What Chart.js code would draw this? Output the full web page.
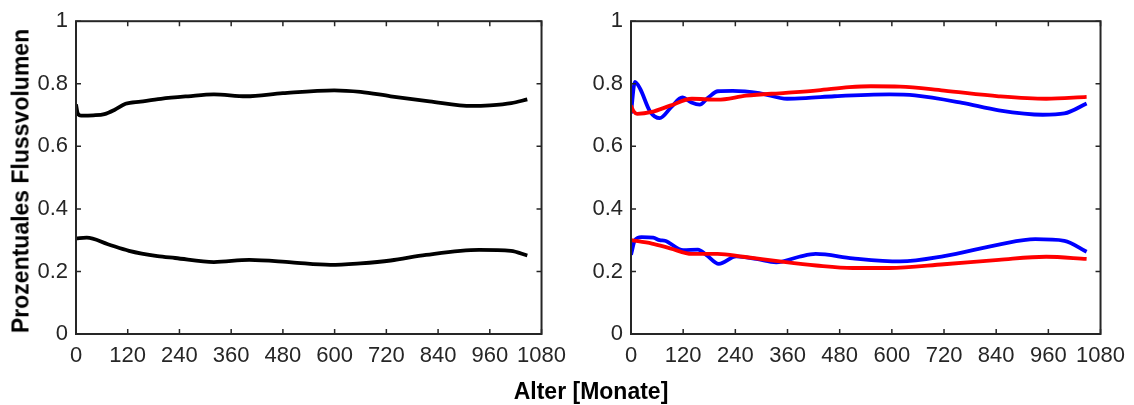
<!DOCTYPE html>
<html>
<head>
<meta charset="utf-8">
<script src="https://cdn.jsdelivr.net/npm/chart.js@4.4.1/dist/chart.umd.min.js"></script>
<style>
  html, body { margin: 0; padding: 0; background: #fff; }
  #wrap { position: relative; width: 1134px; height: 405px; overflow: hidden; font-family: "Liberation Sans", Arial, sans-serif; }
  #c1 { position: absolute; left: 0; top: 0; }
  #c2 { position: absolute; left: 575px; top: 0; }
  .ytitle { position: absolute; left: 21px; top: 181px; transform: translate(-50%, -50%) rotate(-90deg); white-space: nowrap; font-weight: bold; font-size: 23px; color: #000; }
  .xtitle { position: absolute; left: 591px; top: 391px; transform: translate(-50%, -50%); white-space: nowrap; font-weight: bold; font-size: 23px; color: #000; }
</style>
</head>
<body>
<div id="wrap">
  <canvas id="c1" width="575" height="405"></canvas>
  <canvas id="c2" width="559" height="405"></canvas>
  <div class="ytitle">Prozentuales Flussvolumen</div>
  <div class="xtitle">Alter [Monate]</div>
</div>
<script>
// ---- Data (age in months, flow fraction) ----
const xTicks = [0, 120, 240, 360, 480, 600, 720, 840, 960, 1080];
const yTicks = [0, 0.2, 0.4, 0.6, 0.8, 1];

// Left panel (black)
const leftUpperAge = [0, 4, 12, 40, 66, 90, 115, 150, 197, 260, 320, 394, 480, 599, 660, 730, 820, 919, 960, 1010, 1047];
const leftUpperVal = [0.734, 0.705, 0.698, 0.699, 0.703, 0.717, 0.736, 0.743, 0.752, 0.760, 0.766, 0.760, 0.770, 0.779, 0.774, 0.760, 0.744, 0.729, 0.731, 0.738, 0.750];
const leftLowerAge = [0, 25, 74, 123, 189, 230, 320, 402, 500, 590, 660, 730, 812, 935, 1009, 1047];
const leftLowerVal = [0.306, 0.308, 0.287, 0.266, 0.249, 0.243, 0.230, 0.237, 0.229, 0.221, 0.226, 0.235, 0.253, 0.269, 0.266, 0.251];

// Right panel (red)
const redUpperAge = [0, 6, 14, 48, 90, 140, 199, 265, 356, 430, 502, 552, 619, 720, 846, 955, 1048];
const redUpperVal = [0.730, 0.712, 0.704, 0.710, 0.730, 0.752, 0.749, 0.762, 0.771, 0.779, 0.789, 0.792, 0.791, 0.778, 0.760, 0.752, 0.758];
const redLowerAge = [0, 48, 90, 140, 199, 258, 342, 426, 510, 594, 720, 846, 955, 1048];
const redLowerVal = [0.300, 0.289, 0.274, 0.256, 0.256, 0.247, 0.232, 0.219, 0.211, 0.211, 0.223, 0.237, 0.247, 0.240];

// Right panel (blue)
const blueUpperAge = [0, 9, 21, 44, 66, 93, 118, 139, 158, 177, 200, 234, 295, 359, 402, 468, 594, 653, 762, 846, 947, 997, 1048];
const blueUpperVal = [0.705, 0.806, 0.784, 0.711, 0.690, 0.726, 0.756, 0.740, 0.733, 0.755, 0.776, 0.777, 0.770, 0.752, 0.754, 0.760, 0.766, 0.763, 0.739, 0.715, 0.701, 0.705, 0.737];
const blueLowerAge = [0, 9, 24, 51, 66, 78, 120, 154, 173, 202, 242, 288, 334, 387, 425, 510, 619, 720, 846, 930, 997, 1048];
const blueLowerVal = [0.253, 0.300, 0.310, 0.308, 0.300, 0.298, 0.268, 0.270, 0.253, 0.224, 0.248, 0.240, 0.229, 0.247, 0.256, 0.242, 0.232, 0.249, 0.286, 0.303, 0.298, 0.263];

function pts(xs, ys) { return xs.map((x, i) => ({ x: x, y: ys[i] })); }
function ds(xs, ys, color) {
  return { data: pts(xs, ys), borderColor: color, backgroundColor: color, borderWidth: 3.8,
           pointRadius: 0, cubicInterpolationMode: 'monotone', fill: false };
}

const AXC = '#262626';
const boxPlugin = {
  id: 'box',
  afterDraw(chart) {
    const { ctx, chartArea: a, scales } = chart;
    ctx.save();
    ctx.strokeStyle = AXC;
    ctx.lineWidth = 2;
    ctx.strokeRect(a.left, a.top, a.right - a.left, a.bottom - a.top);
    ctx.lineWidth = 1.5;
    const L = 5;
    ctx.beginPath();
    xTicks.forEach(v => {
      const px = scales.x.getPixelForValue(v);
      ctx.moveTo(px, a.bottom); ctx.lineTo(px, a.bottom - L);
      ctx.moveTo(px, a.top); ctx.lineTo(px, a.top + L);
    });
    yTicks.forEach(v => {
      const py = scales.y.getPixelForValue(v);
      ctx.moveTo(a.left, py); ctx.lineTo(a.left + L, py);
      ctx.moveTo(a.right, py); ctx.lineTo(a.right - L, py);
    });
    ctx.stroke();
    ctx.restore();
  }
};

function makeChart(id, datasets, yWidth, padRight) {
  return new Chart(document.getElementById(id), {
    type: 'line',
    data: { datasets: datasets },
    plugins: [boxPlugin],
    options: {
      responsive: false,
      animation: false,
      events: [],
      layout: { padding: { top: 15, right: padRight, left: 0, bottom: 0 } },
      plugins: { legend: { display: false }, tooltip: { enabled: false } },
      scales: {
        x: {
          type: 'linear', min: 0, max: 1080,
          afterBuildTicks: s => { s.ticks = xTicks.map(v => ({ value: v })); },
          afterFit: s => { s.height = 71; },
          grid: { display: false, drawTicks: false },
          border: { display: false },
          ticks: { color: AXC, font: { family: 'Liberation Sans', size: 22 }, padding: 9, maxRotation: 0, autoSkip: false,
                   callback: v => String(v) }
        },
        y: {
          type: 'linear', min: 0, max: 1,
          afterBuildTicks: s => { s.ticks = yTicks.map(v => ({ value: v })); },
          afterFit: s => { s.width = yWidth; },
          grid: { display: false, drawTicks: false },
          border: { display: false },
          ticks: { color: AXC, font: { family: 'Liberation Sans', size: 22 }, padding: 8,
                   callback: v => String(v) }
        }
      }
    }
  });
}

makeChart('c1', [
  ds(leftUpperAge, leftUpperVal, '#000000'),
  ds(leftLowerAge, leftLowerVal, '#000000')
], 76, 30);

makeChart('c2', [
  ds(redUpperAge, redUpperVal, '#ff0000'),
  ds(redLowerAge, redLowerVal, '#ff0000'),
  ds(blueUpperAge, blueUpperVal, '#0000ff'),
  ds(blueLowerAge, blueLowerVal, '#0000ff')
], 56, 33);
</script>
</body>
</html>
